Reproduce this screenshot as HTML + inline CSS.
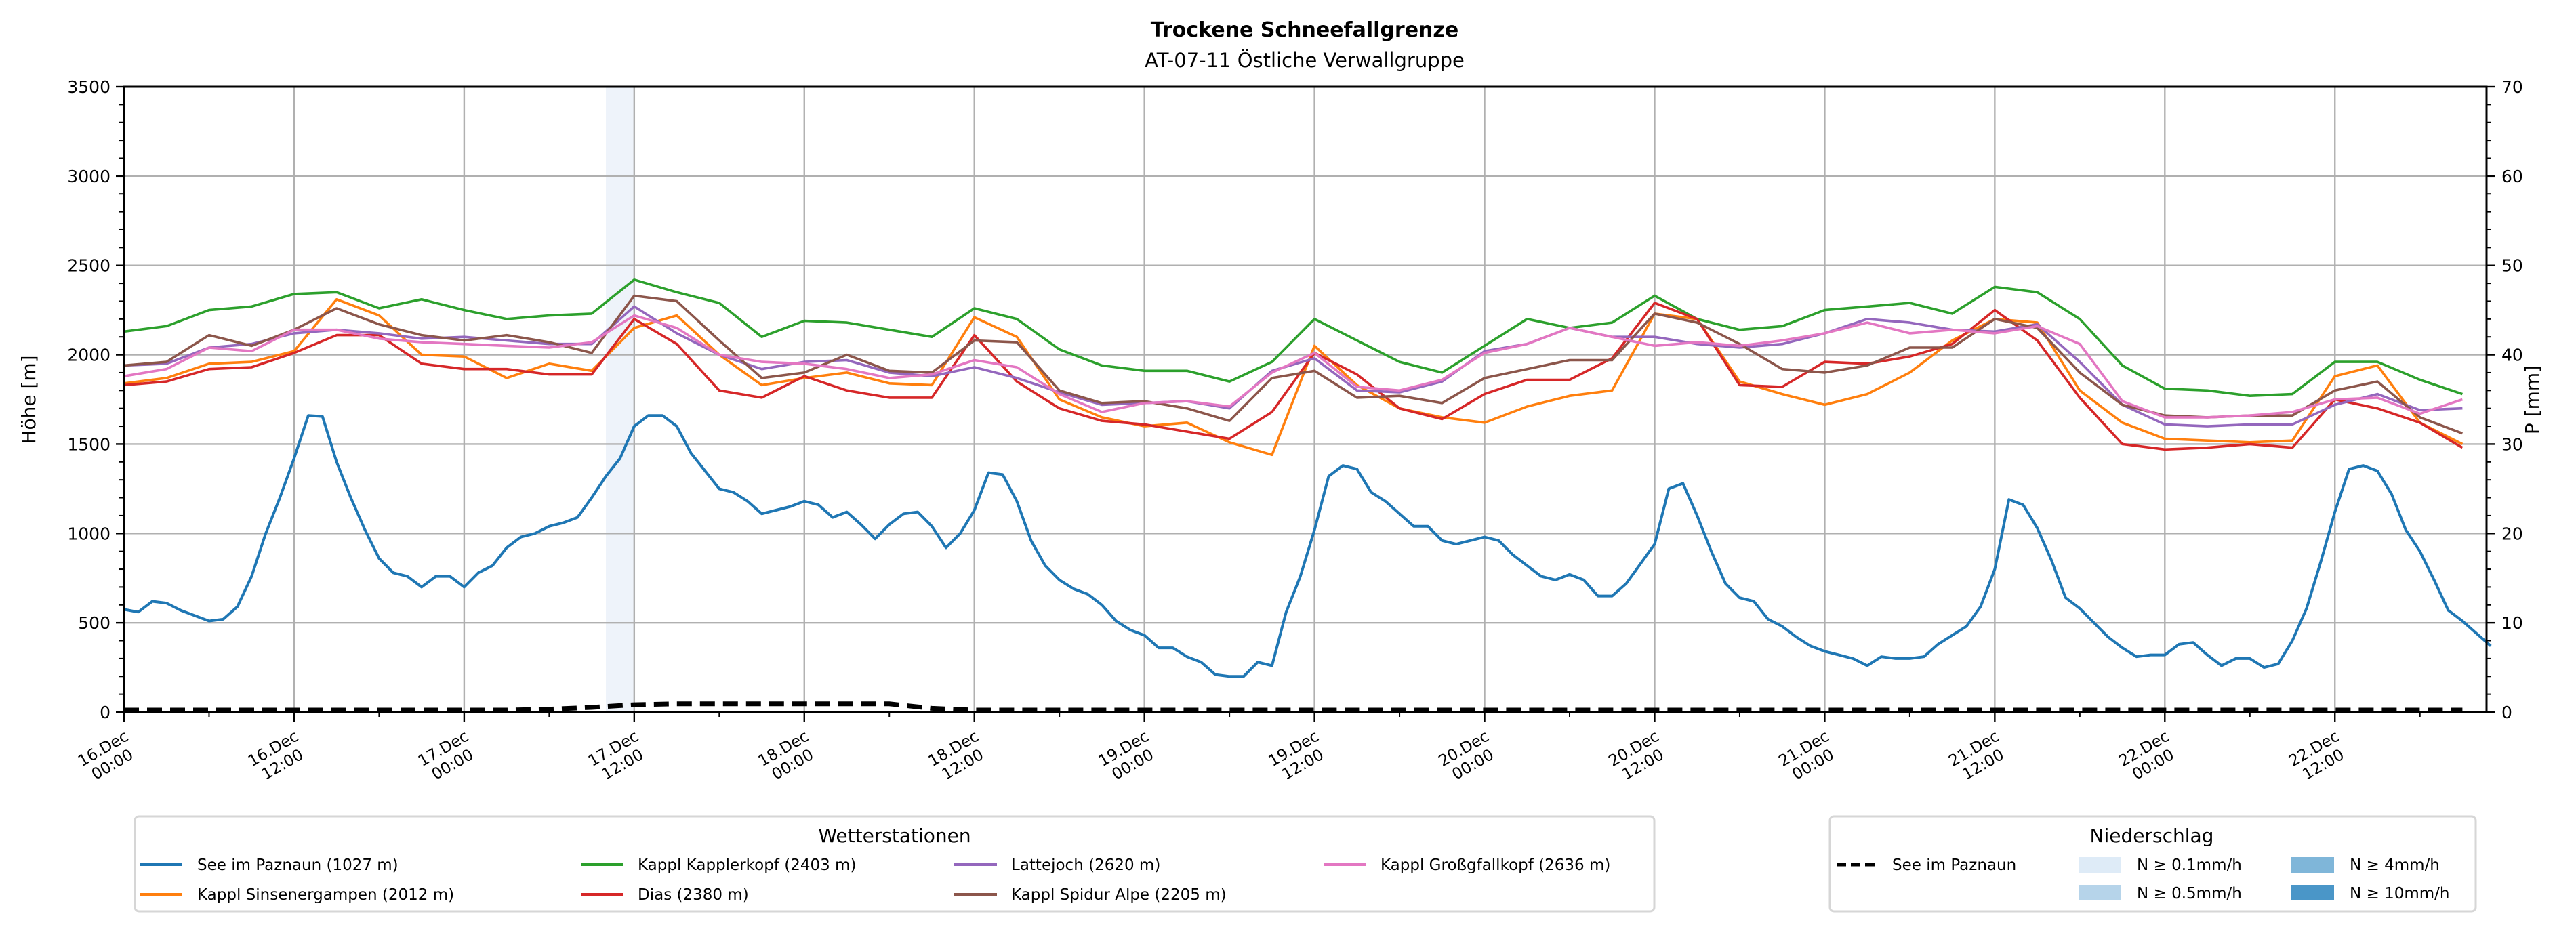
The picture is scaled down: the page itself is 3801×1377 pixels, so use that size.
<!DOCTYPE html>
<html><head><meta charset="utf-8">
<style>
html,body{margin:0;padding:0;background:#fff;}
svg{display:block;font-family:"DejaVu Sans","Liberation Sans",sans-serif;}
</style></head>
<body>
<svg id="chart" width="3801" height="1377" viewBox="0 0 3801 1377" xmlns="http://www.w3.org/2000/svg">
<text x="1925" y="54" font-size="30" font-weight="bold" text-anchor="middle">Trockene Schneefallgrenze</text>
<text x="1925" y="99" font-size="29" text-anchor="middle">AT-07-11 Östliche Verwallgruppe</text>
<g id="plot"></g>
<text transform="translate(52,590) rotate(-90)" font-size="28" text-anchor="middle">Höhe [m]</text>
<text transform="translate(3746,590) rotate(-90)" font-size="28" text-anchor="middle">P [mm]</text>

<g>
<rect x="199" y="1205" width="2242" height="140" rx="6" fill="#fff" stroke="#d6d6d6" stroke-width="3"/>
<text x="1320" y="1243" font-size="28" text-anchor="middle">Wetterstationen</text>
<g font-size="23">
<g><line x1="207" y1="1276" x2="269" y2="1276" stroke="#1f77b4" stroke-width="4"/><text x="291" y="1284">See im Paznaun (1027 m)</text></g>
<g><line x1="207" y1="1320" x2="269" y2="1320" stroke="#ff7f0e" stroke-width="4"/><text x="291" y="1328">Kappl Sinsenergampen (2012 m)</text></g>
<g><line x1="857" y1="1276" x2="920" y2="1276" stroke="#2ca02c" stroke-width="4"/><text x="941" y="1284">Kappl Kapplerkopf (2403 m)</text></g>
<g><line x1="857" y1="1320" x2="920" y2="1320" stroke="#d62728" stroke-width="4"/><text x="941" y="1328">Dias (2380 m)</text></g>
<g><line x1="1408" y1="1276" x2="1471" y2="1276" stroke="#9467bd" stroke-width="4"/><text x="1492" y="1284">Lattejoch (2620 m)</text></g>
<g><line x1="1408" y1="1320" x2="1471" y2="1320" stroke="#8c564b" stroke-width="4"/><text x="1492" y="1328">Kappl Spidur Alpe (2205 m)</text></g>
<g><line x1="1953" y1="1276" x2="2016" y2="1276" stroke="#e377c2" stroke-width="4"/><text x="2037" y="1284">Kappl Großgfallkopf (2636 m)</text></g>
</g></g>

<g>
<rect x="2700" y="1205" width="953" height="140" rx="6" fill="#fff" stroke="#d6d6d6" stroke-width="3"/>
<text x="3175" y="1243" font-size="28" text-anchor="middle">Niederschlag</text>
<g font-size="23">
<g><line x1="2710" y1="1276" x2="2772" y2="1276" stroke="#000" stroke-width="5" stroke-dasharray="14,7"/><text x="2792" y="1284">See im Paznaun</text></g>
<g><rect x="3067" y="1265" width="63" height="23" fill="#deebf7"/><text x="3153" y="1284">N ≥ 0.1mm/h</text></g>
<g><rect x="3067" y="1306" width="63" height="23" fill="#b6d4ea"/><text x="3153" y="1326">N ≥ 0.5mm/h</text></g>
<g><rect x="3381" y="1265" width="63" height="23" fill="#7fb6d9"/><text x="3467" y="1284">N ≥ 4mm/h</text></g>
<g><rect x="3381" y="1306" width="63" height="23" fill="#4a96c8"/><text x="3467" y="1326">N ≥ 10mm/h</text></g>
</g></g>
</svg>
<script>
// ---- data ----
const tickLabels = ["16.Dec|00:00","16.Dec|12:00","17.Dec|00:00","17.Dec|12:00","18.Dec|00:00","18.Dec|12:00","19.Dec|00:00","19.Dec|12:00","20.Dec|00:00","20.Dec|12:00","21.Dec|00:00","21.Dec|12:00","22.Dec|00:00","22.Dec|12:00"];
const yTicks = [0,500,1000,1500,2000,2500,3000,3500];
const y2Ticks = [0,10,20,30,40,50,60,70];
const seeHourly = [575,560,620,610,570,540,510,520,590,760,1000,1200,1420,1660,1655,1400,1200,1020,860,780,760,700,760,760,700,780,820,920,980,1000,1040,1060,1090,1200,1320,1420,1600,1660,1660,1600,1450,1350,1250,1230,1180,1110,1130,1150,1180,1160,1090,1120,1050,970,1050,1110,1120,1040,920,1000,1130,1340,1330,1180,960,820,740,690,660,600,510,460,430,360,360,310,280,210,200,200,280,260,560,760,1020,1320,1380,1360,1230,1180,1110,1040,1040,960,940,960,980,960,880,820,760,740,770,740,650,650,720,830,940,1250,1280,1100,900,720,640,620,520,480,420,370,340,320,300,260,310,300,300,310,380,430,480,590,800,1190,1160,1030,850,640,580,500,420,360,310,320,320,380,390,320,260,300,300,250,270,400,580,840,1120,1360,1380,1350,1220,1020,900,740,570,510,440,370];
const hours3 = [0,3,6,9,12,15,18,21,24,27,30,33,36,39,42,45,48,51,54,57,60,63,66,69,72,75,78,81,84,87,90,93,96,99,102,105,108,111,114,117,120,123,126,129,132,135,138,141,144,147,150,153,156,159,162,165];
const sinsener = [1840,1870,1950,1960,2020,2310,2220,2000,1990,1870,1950,1910,2150,2220,2000,1830,1870,1900,1840,1830,2210,2100,1750,1650,1600,1620,1510,1440,2050,1830,1700,1650,1620,1710,1770,1800,2230,2200,1850,1780,1720,1780,1900,2080,2200,2180,1800,1620,1530,1520,1510,1520,1880,1940,1620,1500];
const kapplerkopf = [2130,2160,2250,2270,2340,2350,2260,2310,2250,2200,2220,2230,2420,2350,2290,2100,2190,2180,2140,2100,2260,2200,2030,1940,1910,1910,1850,1960,2200,2080,1960,1900,2050,2200,2150,2180,2330,2200,2140,2160,2250,2270,2290,2230,2380,2350,2200,1940,1810,1800,1770,1780,1960,1960,1860,1780];
const dias = [1830,1850,1920,1930,2010,2110,2110,1950,1920,1920,1890,1890,2200,2060,1800,1760,1880,1800,1760,1760,2110,1850,1700,1630,1610,1570,1530,1680,2010,1890,1700,1640,1780,1860,1860,1980,2290,2200,1830,1820,1960,1950,1990,2060,2250,2080,1760,1500,1470,1480,1500,1480,1750,1700,1620,1480];
const lattejoch = [1940,1950,2040,2060,2120,2140,2120,2090,2100,2080,2060,2060,2270,2120,2000,1920,1960,1970,1900,1880,1930,1870,1790,1720,1730,1740,1700,1910,1980,1800,1790,1850,2020,2060,2150,2100,2100,2060,2040,2060,2120,2200,2180,2140,2130,2170,1960,1720,1610,1600,1610,1610,1720,1780,1690,1700];
const spidur = [1940,1960,2110,2050,2140,2260,2170,2110,2080,2110,2070,2010,2330,2300,2080,1870,1900,2000,1910,1900,2080,2070,1800,1730,1740,1700,1630,1870,1910,1760,1770,1730,1870,1920,1970,1970,2230,2180,2060,1920,1900,1940,2040,2040,2200,2150,1900,1720,1660,1650,1660,1660,1800,1850,1650,1560];
const grossgfall = [1880,1920,2040,2020,2140,2140,2090,2070,2060,2050,2040,2070,2220,2150,2000,1960,1950,1920,1870,1890,1970,1930,1780,1680,1730,1740,1710,1900,2010,1820,1800,1860,2010,2060,2150,2100,2050,2070,2050,2080,2120,2180,2120,2140,2120,2160,2060,1740,1650,1650,1660,1680,1750,1760,1670,1750];
const precip = [0,0,0,0,0,0,0,0,0,0,0.1,0.3,0.6,0.7,0.7,0.7,0.7,0.7,0.7,0.2,0,0,0,0,0,0,0,0,0,0,0,0,0,0,0,0,0,0,0,0,0,0,0,0,0,0,0,0,0,0,0,0,0,0,0,0];
const bandStart = [34];
const bandEnd = [36];

// ---- axes ----
const X0=183, X1=3669, Y0=1051, Y1=128, HMAX=166.7;
const xs = h => X0 + (X1-X0)*h/HMAX;
const ys = v => Y0 - (Y0-Y1)*v/3500;
const ys2 = v => Y0 - (Y0-Y1)*v/70;
const NS="http://www.w3.org/2000/svg";
const plot=document.getElementById('plot');
function mk(tag,attrs,parent){const e=document.createElementNS(NS,tag);for(const k in attrs)e.setAttribute(k,attrs[k]);(parent||plot).appendChild(e);return e;}

for(let i=0;i<bandStart.length;i++){
  const r=mk('rect',{x:xs(bandStart[i]),y:Y1,width:xs(bandEnd[i])-xs(bandStart[i]),height:Y0-Y1,fill:'#eef3fa'});
  
  
}
tickLabels.forEach((t,i)=>{const x=xs(i*12);const g=mk('line',{x1:x,x2:x,y1:Y1,y2:Y0,stroke:'#b0b0b0','stroke-width':2.4});
  
  });
yTicks.forEach(v=>{const y=ys(v);const g=mk('line',{x1:X0,x2:X1,y1:y,y2:y,stroke:'#b0b0b0','stroke-width':2.4});
  
  });

function poly(hs,vals,color,name,w){
  const d=vals.map((v,i)=>xs(hs[i]).toFixed(1)+','+ys(v).toFixed(1)).join(' ');
  const p=mk('polyline',{points:d,fill:'none',stroke:color,'stroke-width':w||3.6,'stroke-linejoin':'round'});
  
  
}
const hours1 = seeHourly.map((_,i)=>i);
poly(hours1,seeHourly,'#1f77b4','series-see-im-paznaun',4);
poly(hours3,sinsener,'#ff7f0e','series-sinsenergampen');
poly(hours3,kapplerkopf,'#2ca02c','series-kapplerkopf');
poly(hours3,dias,'#d62728','series-dias');
poly(hours3,lattejoch,'#9467bd','series-lattejoch');
poly(hours3,spidur,'#8c564b','series-spidur-alpe');
poly(hours3,grossgfall,'#e377c2','series-grossgfallkopf');
{const d=precip.map((v,i)=>xs(hours3[i]).toFixed(1)+','+(ys2(v)-3).toFixed(1)).join(' ');
 const p=mk('polyline',{points:d,fill:'none',stroke:'#000','stroke-width':7,'stroke-dasharray':'22,12'});
 
 }

const fr=mk('rect',{x:X0,y:Y1,width:X1-X0,height:Y0-Y1,fill:'none',stroke:'#000','stroke-width':3});



yTicks.forEach(v=>{const y=ys(v);mk('line',{x1:X0-12,x2:X0,y1:y,y2:y,stroke:'#000','stroke-width':2.4});
  const t=mk('text',{x:X0-20,y:y+9,'font-size':25,'text-anchor':'end'});t.textContent=v;
  
  });
for(let v=100;v<3500;v+=100){if(v%500)mk('line',{x1:X0-7,x2:X0,y1:ys(v),y2:ys(v),stroke:'#000','stroke-width':2});}
y2Ticks.forEach(v=>{const y=ys2(v);mk('line',{x1:X1,x2:X1+12,y1:y,y2:y,stroke:'#000','stroke-width':2.4});
  const t=mk('text',{x:X1+22,y:y+9,'font-size':25});t.textContent=v;
  
  });
for(let v=2;v<70;v+=2){if(v%10)mk('line',{x1:X1,x2:X1+7,y1:ys2(v),y2:ys2(v),stroke:'#000','stroke-width':2});}
for(let h=6;h<HMAX;h+=12)mk('line',{x1:xs(h),x2:xs(h),y1:Y0,y2:Y0+7,stroke:'#000','stroke-width':2});
tickLabels.forEach((lab,i)=>{const x=xs(i*12);mk('line',{x1:x,x2:x,y1:Y0,y2:Y0+14,stroke:'#000','stroke-width':2.4});
  const parts=lab.split('|');
  const t=mk('text',{transform:`translate(${x+12},${Y0+38}) rotate(-30)`,'font-size':23,'text-anchor':'middle'});
  
  
  const a=mk('tspan',{x:-45,y:0},t);a.textContent=parts[0];
  const b=mk('tspan',{x:-45,y:27},t);b.textContent=parts[1];
});
</script>
</body></html>
